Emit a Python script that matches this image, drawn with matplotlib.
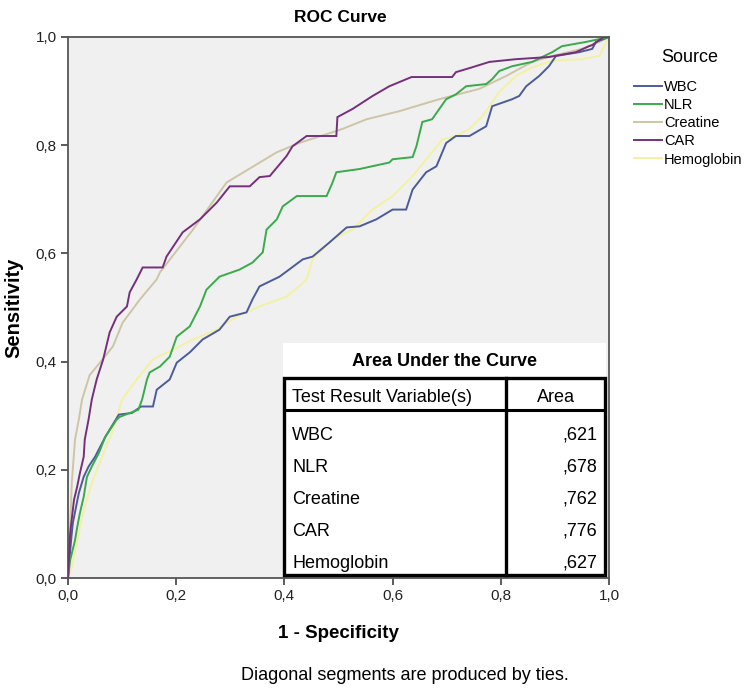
import matplotlib
matplotlib.use("Agg")
import matplotlib.pyplot as plt
from matplotlib.patches import Rectangle
from matplotlib.lines import Line2D

plt.rcParams['font.family'] = ['Liberation Sans', 'DejaVu Sans']

# ---------------- data ----------------
series_names = ["WBC", "NLR", "Creatine", "CAR", "Hemoglobin"]
series_colors = ["#4b5c98", "#3aaa4c", "#cdc5a5", "#76307a", "#f3f1a2"]
auc_values = [",621", ",678", ",762", ",776", ",627"]

wbc_fpr = [0, 0.004, 0.007, 0.009, 0.02, 0.029, 0.038, 0.05, 0.069, 0.094, 0.118, 0.135, 0.157, 0.164,
           0.188, 0.201, 0.225, 0.249, 0.28, 0.299, 0.33, 0.341, 0.354, 0.391, 0.434, 0.452, 0.483, 0.515,
           0.539, 0.57, 0.6, 0.625, 0.637, 0.662, 0.681, 0.699, 0.717, 0.742, 0.773, 0.784, 0.821, 0.834,
           0.847, 0.871, 0.889, 0.902, 0.945, 0.969, 0.976, 1.0]
wbc_tpr = [0, 0.05, 0.083, 0.102, 0.157, 0.187, 0.206, 0.224, 0.261, 0.302, 0.305, 0.317, 0.317, 0.348,
           0.367, 0.398, 0.417, 0.441, 0.459, 0.483, 0.491, 0.515, 0.539, 0.557, 0.589, 0.594, 0.620, 0.648,
           0.65, 0.663, 0.681, 0.681, 0.718, 0.75, 0.761, 0.804, 0.817, 0.817, 0.835, 0.872, 0.885, 0.891,
           0.909, 0.928, 0.946, 0.965, 0.972, 0.978, 0.991, 1.0]

nlr_fpr = [0, 0.004, 0.013, 0.017, 0.022, 0.029, 0.035, 0.044, 0.057, 0.069, 0.09, 0.096, 0.13, 0.137,
           0.146, 0.151, 0.17, 0.188, 0.201, 0.225, 0.244, 0.256, 0.28, 0.317, 0.341, 0.36, 0.367, 0.386,
           0.397, 0.423, 0.478, 0.489, 0.496, 0.539, 0.594, 0.6, 0.637, 0.644, 0.655, 0.673, 0.699, 0.717,
           0.736, 0.773, 0.784, 0.797, 0.821, 0.858, 0.895, 0.913, 0.958, 1.0]
nlr_tpr = [0, 0.033, 0.07, 0.094, 0.12, 0.15, 0.187, 0.206, 0.231, 0.261, 0.293, 0.298, 0.311, 0.33,
           0.367, 0.38, 0.391, 0.409, 0.446, 0.465, 0.502, 0.533, 0.557, 0.570, 0.583, 0.602, 0.644, 0.663,
           0.687, 0.706, 0.706, 0.731, 0.75, 0.756, 0.768, 0.774, 0.778, 0.798, 0.843, 0.848, 0.885, 0.894,
           0.909, 0.913, 0.922, 0.937, 0.946, 0.954, 0.972, 0.983, 0.991, 1.0]

creatine_fpr = [0, 0.002, 0.005, 0.007, 0.013, 0.02, 0.026, 0.04, 0.059, 0.083, 0.101, 0.133, 0.164, 0.17,
                0.231, 0.293, 0.386, 0.43, 0.489, 0.507, 0.552, 0.613, 0.686, 0.76, 0.81, 0.858, 0.895,
                0.95, 0.982, 1.0]
creatine_tpr = [0, 0.06, 0.12, 0.176, 0.256, 0.293, 0.33, 0.375, 0.398, 0.428, 0.472, 0.515, 0.552, 0.565,
                0.644, 0.731, 0.787, 0.805, 0.824, 0.83, 0.848, 0.863, 0.885, 0.904, 0.928, 0.954, 0.965,
                0.978, 0.991, 1.0]

car_fpr = [0, 0.002, 0.004, 0.011, 0.017, 0.022, 0.029, 0.031, 0.038, 0.044, 0.053, 0.065, 0.077, 0.09,
           0.109, 0.114, 0.127, 0.138, 0.175, 0.182, 0.212, 0.244, 0.275, 0.299, 0.336, 0.354, 0.373, 0.404,
           0.415, 0.441, 0.496, 0.498, 0.526, 0.563, 0.594, 0.635, 0.71, 0.717, 0.747, 0.779, 0.828, 0.889,
           0.939, 0.963, 0.969, 0.99, 1.0]
car_tpr = [0, 0.04, 0.083, 0.144, 0.169, 0.194, 0.224, 0.256, 0.293, 0.33, 0.367, 0.404, 0.454, 0.483,
           0.502, 0.528, 0.552, 0.574, 0.574, 0.594, 0.639, 0.663, 0.694, 0.724, 0.724, 0.741, 0.743, 0.780,
           0.798, 0.817, 0.817, 0.852, 0.867, 0.891, 0.909, 0.926, 0.926, 0.935, 0.944, 0.954, 0.959, 0.963,
           0.972, 0.983, 0.985, 1.0, 1.0]

hemo_fpr = [0, 0.007, 0.015, 0.026, 0.044, 0.063, 0.081, 0.1, 0.127, 0.157, 0.194, 0.231, 0.275, 0.312,
            0.354, 0.404, 0.428, 0.441, 0.452, 0.489, 0.526, 0.563, 0.6, 0.637, 0.673, 0.692, 0.717, 0.742,
            0.766, 0.797, 0.828, 0.858, 0.895, 0.95, 0.982, 1.0]
hemo_tpr = [0, 0.02, 0.06, 0.113, 0.176, 0.224, 0.268, 0.33, 0.367, 0.404, 0.422, 0.441, 0.459, 0.483,
            0.502, 0.52, 0.54, 0.552, 0.589, 0.626, 0.644, 0.681, 0.706, 0.743, 0.787, 0.811, 0.817, 0.83,
            0.854, 0.898, 0.928, 0.944, 0.956, 0.959, 0.965, 1.0]

x_ticks = [0.0, 0.2, 0.4, 0.6, 0.8, 1.0]
y_ticks = [0.0, 0.2, 0.4, 0.6, 0.8, 1.0]
tick_labels = ["0,0", "0,2", "0,4", "0,6", "0,8", "1,0"]

# ---------------- figure ----------------
W, H = 750, 696
fig = plt.figure(figsize=(W / 100, H / 100), dpi=100)

def fx(px):
    return px / W

def fy(py):
    return 1 - py / H

ax_l, ax_r, ax_t, ax_b = 68, 609, 37, 578
ax = fig.add_axes([fx(ax_l), fy(ax_b), (ax_r - ax_l) / W, (ax_b - ax_t) / H])
ax.set_facecolor("#f0f0f0")
ax.set_xlim(0, 1)
ax.set_ylim(0, 1)

curves = [(wbc_fpr, wbc_tpr), (nlr_fpr, nlr_tpr), (creatine_fpr, creatine_tpr),
          (car_fpr, car_tpr), (hemo_fpr, hemo_tpr)]
order_z = [3, 4, 2, 5, 1]
handles = []
for (xs, ys), name, col, z in zip(curves, series_names, series_colors, order_z):
    ln, = ax.plot(xs, ys, color=col, lw=1.4, zorder=z, label=name, solid_joinstyle='miter')
    handles.append(ln)

ax.set_xticks(x_ticks)
ax.set_xticklabels(tick_labels)
ax.set_yticks(y_ticks)
ax.set_yticklabels(tick_labels)
ax.tick_params(direction='out', length=5, width=1.2, color="#404040", labelsize=11, labelcolor="#222222", pad=3)
for s in ax.spines.values():
    s.set_color("#555555")
    s.set_linewidth(1.3)

ax.set_xlabel("1 - Specificity", fontsize=13.5, fontweight='bold', labelpad=16)
ax.set_ylabel("Sensitivity", fontsize=14.5, fontweight='bold', labelpad=9)
fig.text(fx(340), fy(18), "ROC Curve", ha='center', va='center', fontsize=12.5, fontweight='bold')
fig.text(fx(405), fy(676), "Diagonal segments are produced by ties.", ha='center', va='center', fontsize=13)

# ---------------- legend ----------------
fig.text(fx(690), fy(58), "Source", ha='center', va='center', fontsize=13)
leg = fig.legend(handles=handles, labels=series_names, loc='upper left',
                 bbox_to_anchor=(fx(624), fy(70)), frameon=False, fontsize=10.5,
                 handlelength=1.9, handletextpad=0.15,
                 labelspacing=0.28, borderpad=0.2)

# ---------------- AUC table ----------------
def rect(x0, y0, x1, y1, **kw):
    return Rectangle((fx(x0), fy(y1)), (x1 - x0) / W, (y1 - y0) / H, transform=fig.transFigure, **kw)

fig.patches.append(rect(283, 343, 606, 577, facecolor='white', edgecolor='none', zorder=5))
fig.patches.append(rect(284, 378, 605, 575, facecolor='none', edgecolor='black', lw=2.4, zorder=6))
fig.lines.append(Line2D([fx(284), fx(605)], [fy(410), fy(410)], transform=fig.transFigure,
                        color='black', lw=2.2, zorder=6))
fig.lines.append(Line2D([fx(506), fx(506)], [fy(378), fy(575)], transform=fig.transFigure,
                        color='black', lw=2.4, zorder=6))

fig.text(fx(444), fy(362), "Area Under the Curve", ha='center', va='center', fontsize=13,
         fontweight='bold', zorder=7)
fig.text(fx(292), fy(397), "Test Result Variable(s)", ha='left', va='center', fontsize=13, zorder=7)
fig.text(fx(556), fy(397), "Area", ha='center', va='center', fontsize=13, zorder=7)
row_y = [435, 467, 499, 531, 563]
for name, val, py in zip(series_names, auc_values, row_y):
    fig.text(fx(292), fy(py), name, ha='left', va='center', fontsize=13, zorder=7)
    fig.text(fx(597), fy(py), val, ha='right', va='center', fontsize=13, zorder=7)

fig.savefig("out.png", dpi=100)
